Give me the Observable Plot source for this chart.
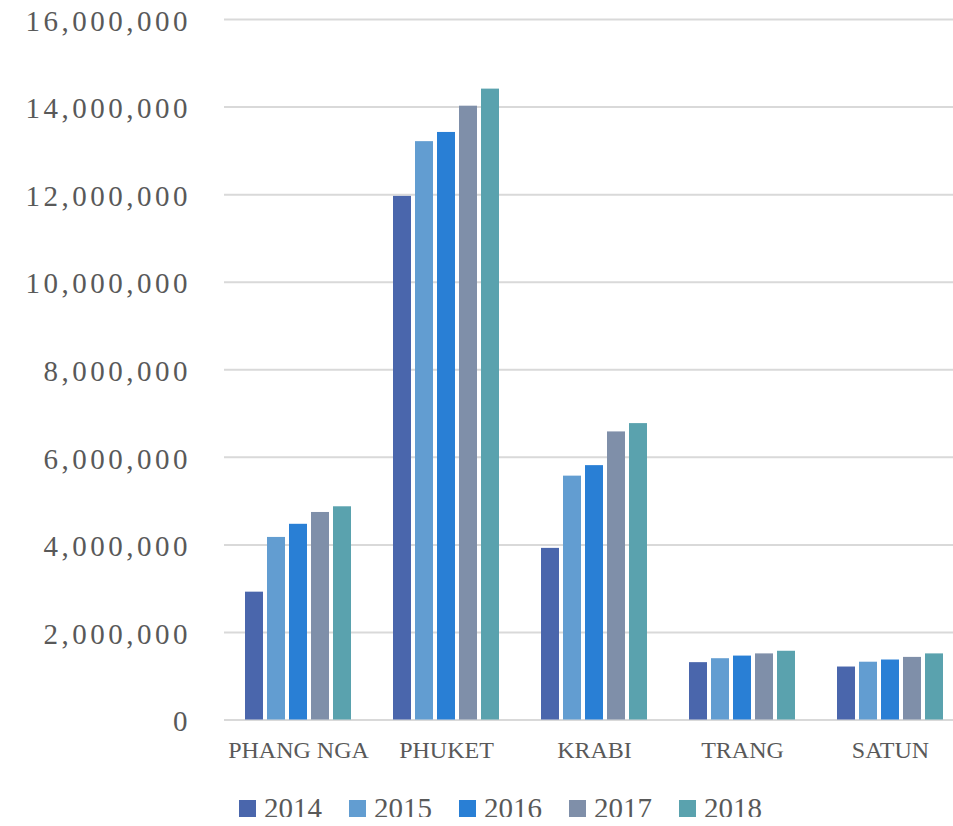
<!DOCTYPE html>
<html>
<head>
<meta charset="utf-8">
<script src="https://cdn.jsdelivr.net/npm/d3@7"></script>
<script src="https://cdn.jsdelivr.net/npm/@observablehq/plot@0.6"></script>
<style>
  html, body { margin: 0; padding: 0; background: #fff; overflow: hidden; }
  #chart { width: 964px; }
  g[aria-label="y-axis tick label"] text { letter-spacing: 3.5px; }
  #legend { display: flex; align-items: center; margin-top: 30px; padding-left: 239px;
            font-family: "Liberation Serif", serif; font-size: 29px; color: #595959; }
  .item { display: flex; align-items: center; margin-right: 27px; }
  .sw { width: 17px; height: 17px; margin-right: 8px; }
  .lb { line-height: 17px; }
</style>
</head>
<body>
<div id="chart"></div>
<div id="legend"></div>
<script>
const provinces = ["PHANG NGA", "PHUKET", "KRABI", "TRANG", "SATUN"];
const years = ["2014", "2015", "2016", "2017", "2018"];
const colors = ["#4A66AC", "#629DD1", "#297FD5", "#7F8FA9", "#5AA2AE"];
const v2014 = [2920000, 11960000, 3920000, 1310000, 1210000];
const v2015 = [4170000, 13210000, 5570000, 1400000, 1320000];
const v2016 = [4470000, 13420000, 5810000, 1460000, 1370000];
const v2017 = [4740000, 14020000, 6580000, 1510000, 1430000];
const v2018 = [4870000, 14410000, 6770000, 1570000, 1510000];
const yTicks = [0, 2000000, 4000000, 6000000, 8000000, 10000000, 12000000, 14000000, 16000000];

const series = [v2014, v2015, v2016, v2017, v2018];
const data = [];
provinces.forEach((p, i) => {
  years.forEach((yr, j) => data.push({province: p, year: yr, value: series[j][i]}));
});

const chart = Plot.plot({
  width: 964,
  height: 770,
  marginLeft: 224,
  marginRight: 0,
  marginTop: 19,
  marginBottom: 50.5,
  style: {fontFamily: "Liberation Serif, serif", color: "#595959", background: "#fff"},
  fx: {domain: provinces, padding: 0, label: null},
  x: {domain: years, paddingInner: 0.19, paddingOuter: 0.855, axis: null},
  y: {domain: [0, 16000000], label: null},
  color: {domain: years, range: colors},
  marks: [
    Plot.gridY(yTicks, {stroke: "#d9d9d9", strokeOpacity: 1, strokeWidth: 2}),
    Plot.barY(data, {fx: "province", x: "year", y: "value", fill: "year"}),
    Plot.axisY(yTicks, {tickFormat: d3.format(","), tickSize: 0, tickPadding: 33.5, fontSize: 29, dy: 2}),
    Plot.axisFx({anchor: "bottom", tickSize: 0, tickPadding: 21, fontSize: 24, label: null})
  ]
});
document.getElementById("chart").appendChild(chart);

const legend = document.getElementById("legend");
years.forEach((yr, j) => {
  const it = document.createElement("div");
  it.className = "item";
  const sw = document.createElement("div");
  sw.className = "sw";
  sw.style.background = colors[j];
  const lb = document.createElement("span");
  lb.className = "lb";
  lb.textContent = yr;
  it.appendChild(sw);
  it.appendChild(lb);
  legend.appendChild(it);
});
</script>
</body>
</html>
